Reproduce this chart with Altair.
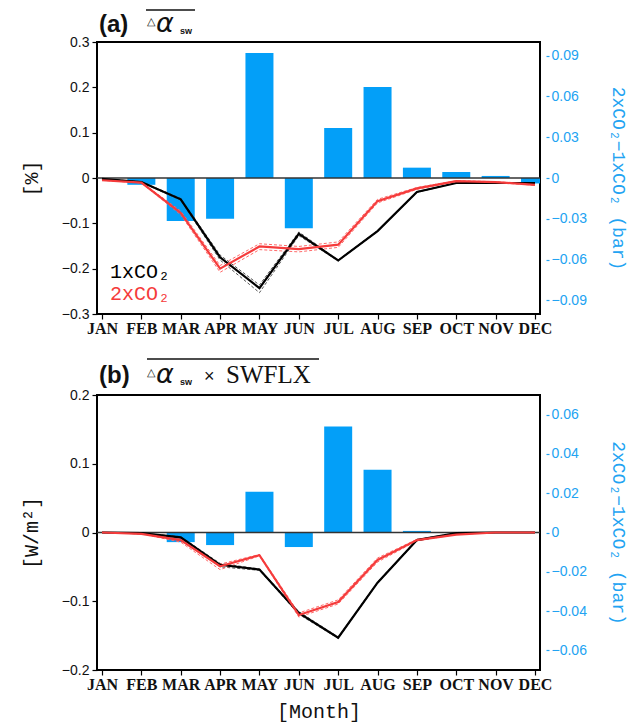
import altair as alt
import pandas as pd

months = ["JAN", "FEB", "MAR", "APR", "MAY", "JUN", "JUL", "AUG", "SEP", "OCT", "NOV", "DEC"]

# ---- panel (a): delta alpha_sw  [%] ----
a_1x = [-0.002, -0.009, -0.047, -0.175, -0.243, -0.123, -0.182, -0.117, -0.031, -0.011, -0.011, -0.011]
a_1x_hi = [-0.002, -0.008, -0.045, -0.170, -0.236, -0.119, -0.181, -0.116, -0.030, -0.011, -0.011, -0.011]
a_1x_lo = [-0.002, -0.010, -0.049, -0.181, -0.253, -0.127, -0.183, -0.118, -0.032, -0.011, -0.011, -0.011]
a_2x = [-0.005, -0.010, -0.077, -0.200, -0.151, -0.157, -0.147, -0.051, -0.023, -0.007, -0.009, -0.015]
a_2x_hi = [-0.005, -0.009, -0.073, -0.193, -0.145, -0.151, -0.141, -0.047, -0.021, -0.006, -0.008, -0.014]
a_2x_lo = [-0.005, -0.011, -0.081, -0.208, -0.158, -0.163, -0.153, -0.055, -0.025, -0.008, -0.010, -0.016]
a_bar = [0.0, -0.005, -0.0316, -0.030, 0.092, -0.037, 0.0368, 0.067, 0.0076, 0.0044, 0.0015, -0.004]

# ---- panel (b): delta alpha_sw x SWFLX  [W/m2] ----
b_1x = [0.0, -0.001, -0.007, -0.047, -0.054, -0.117, -0.153, -0.073, -0.011, -0.001, 0.0, 0.0]
b_1x_hi = [0.0, -0.001, -0.006, -0.045, -0.053, -0.115, -0.152, -0.072, -0.010, -0.001, 0.0, 0.0]
b_1x_lo = [0.0, -0.001, -0.008, -0.050, -0.055, -0.119, -0.154, -0.074, -0.012, -0.001, 0.0, 0.0]
b_2x = [0.0, -0.002, -0.011, -0.049, -0.033, -0.120, -0.101, -0.040, -0.011, -0.003, 0.0, 0.0]
b_2x_hi = [0.0, -0.002, -0.009, -0.046, -0.032, -0.117, -0.098, -0.037, -0.010, -0.002, 0.0, 0.0]
b_2x_lo = [0.0, -0.002, -0.014, -0.054, -0.034, -0.123, -0.104, -0.043, -0.012, -0.003, 0.0, 0.0]
b_bar = [0.0, 0.0, -0.0049, -0.0064, 0.0208, -0.0074, 0.054, 0.032, 0.0008, 0.0, 0.0, 0.0]

a_left_ticks = [-0.3, -0.2, -0.1, 0, 0.1, 0.2, 0.3]
a_right_ticks = [-0.09, -0.06, -0.03, 0, 0.03, 0.06, 0.09]
b_left_ticks = [-0.2, -0.1, 0, 0.1, 0.2]
b_right_ticks = [-0.06, -0.04, -0.02, 0, 0.02, 0.04, 0.06]

BLUE = "#039ff8"
BLUE_TXT = "#22a3f2"
RED = "#f53b3b"
RED_D = "#ff6a6a"

label_expr = "[" + ",".join("'%s'" % m for m in months) + "][datum.value - 1]"
idx = list(range(1, 13))


def lines_df(parts):
    rows = []
    for key, series, vals in parts:
        for i, v in enumerate(vals):
            rows.append({"m": i + 1, "key": key, "series": series, "v": v})
    return pd.DataFrame(rows)


def panel(main_parts, dash_parts, bars, ldom, lticks, ltitle, rdom, rticks, height,
          xtitle, deco):
    xax = alt.Axis(values=idx, labelExpr=label_expr, title=xtitle, grid=False, domain=False,
                   tickColor="black", tickSize=5, tickWidth=1.2,
                   labelFont="Liberation Serif", labelFontWeight="bold", labelFontSize=16,
                   labelColor="#111", labelPadding=1, labelFlush=False,
                   titleFont="Liberation Mono", titleFontSize=20, titleFontWeight="normal",
                   titleColor="#111", titlePadding=9)
    x = alt.X("m:Q", scale=alt.Scale(domain=[1, 12], nice=False, zero=False), axis=xax)
    lscale = alt.Scale(domain=ldom, nice=False, zero=False)
    lax = alt.Axis(values=lticks, format="~g", title=ltitle, grid=False, domain=False,
                   tickColor="black", tickSize=5, tickWidth=1.2,
                   labelFont="Liberation Sans", labelFontSize=14, labelColor="#111",
                   labelPadding=3,
                   titleFont="Liberation Mono", titleFontSize=20, titleFontWeight="normal",
                   titleColor="#111", titlePadding=20)
    y = alt.Y("v:Q", scale=lscale, axis=lax)
    col = alt.Color("series:N", scale=alt.Scale(domain=["1x", "2x"], range=["#000000", RED]),
                    legend=None)
    dcol = alt.Color("series:N", scale=alt.Scale(domain=["1x", "2x"], range=["#555555", RED_D]),
                     legend=None)

    bar_df = pd.DataFrame({"m": idx, "v": bars})
    bar_layer = alt.Chart(bar_df).mark_bar(size=28, clip=True, color=BLUE).encode(
        x=x,
        y=alt.Y("v:Q", scale=alt.Scale(domain=rdom, nice=False, zero=False),
                axis=alt.Axis(orient="right", values=rticks, format="~g",
                              title="2xCO₂−1xCO₂ (bar)", titleAngle=90, grid=False,
                              domain=False, offset=6, tickColor=BLUE_TXT, tickSize=3,
                              tickWidth=1.2, labelColor=BLUE_TXT, labelFont="Liberation Sans",
                              labelFontSize=14, labelPadding=2,
                              titleFont="Liberation Mono", titleFontSize=18,
                              titleFontWeight="normal", titleColor=BLUE_TXT,
                              titlePadding=22)),
    )
    zero = alt.Chart(pd.DataFrame({"m": [1], "v": [0.0]})).mark_rule(
        color="#333", strokeWidth=1.6).encode(y=y)
    dashed = alt.Chart(lines_df(dash_parts)).mark_line(
        strokeWidth=1, strokeDash=[3, 2], clip=True).encode(
        x=x, y=y, color=dcol, detail="key:N", order="m:Q")
    solid = alt.Chart(lines_df(main_parts)).mark_line(strokeWidth=2.2, clip=True).encode(
        x=x, y=y, color=col, detail="key:N", order="m:Q")
    inner = alt.layer(zero, dashed, solid, *deco).resolve_scale(color="independent")
    return alt.layer(bar_layer, inner).resolve_scale(y="independent").properties(
        width=443, height=height)


one = pd.DataFrame({"k": [0]})


def txt(s, xv, yv, size, font="Liberation Sans", weight="normal", style="normal",
        color="#111"):
    return alt.Chart(one).mark_text(text=s, align="left", baseline="alphabetic",
                                    font=font, fontSize=size, fontWeight=weight,
                                    fontStyle=style, color=color).encode(
        x=alt.value(xv), y=alt.value(yv))


def overline(x1, x2, yv):
    return alt.Chart(one).mark_rule(color="#111", strokeWidth=1.3).encode(
        x=alt.value(x1), x2=alt.value(x2), y=alt.value(yv))


deco_a = [
    txt("(a)", 2, -10, 24, weight="bold"),
    txt("△", 50, -17, 11),
    txt("α", 59, -10, 27, font="DejaVu Sans", style="italic"),
    txt("sw", 83, -8, 9, weight="bold"),
    overline(49, 98, -32),
    txt("1xCO₂", 13, 236, 20, font="Liberation Mono", color="#000"),
    txt("2xCO₂", 13, 258, 20, font="Liberation Mono", color=RED),
]
deco_b = [
    txt("(b)", 2, -12, 24, weight="bold"),
    txt("△", 50, -19, 11),
    txt("α", 59, -12, 27, font="DejaVu Sans", style="italic"),
    txt("sw", 83, -10, 9, weight="bold"),
    txt("×", 107, -13, 18),
    txt("SWFLX", 129, -12, 25, font="Liberation Serif"),
    overline(50, 222, -36),
]

pa = panel(
    [("1x", "1x", a_1x), ("2x", "2x", a_2x)],
    [("1xh", "1x", a_1x_hi), ("1xl", "1x", a_1x_lo), ("2xh", "2x", a_2x_hi), ("2xl", "2x", a_2x_lo)],
    a_bar, [-0.3, 0.3], a_left_ticks, "[%]", [-0.1, 0.1], a_right_ticks, 272, None, deco_a)
pb = panel(
    [("1x", "1x", b_1x), ("2x", "2x", b_2x)],
    [("1xh", "1x", b_1x_hi), ("1xl", "1x", b_1x_lo), ("2xh", "2x", b_2x_hi), ("2xl", "2x", b_2x_lo)],
    b_bar, [-0.2, 0.2], b_left_ticks, "[W/m²]", [-0.07, 0.07], b_right_ticks, 275, "[Month]", deco_b)

chart = alt.vconcat(pa, pb, spacing=20).properties(
    padding={"left": 20, "top": 8, "right": 0, "bottom": 0},
    background="white",
).configure_view(stroke="#000", strokeWidth=2)

chart.save("out.html", embed_options={"renderer": "svg", "actions": False})
